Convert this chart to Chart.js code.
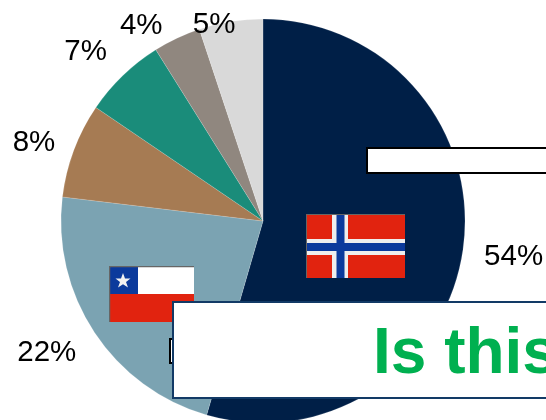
<!DOCTYPE html>
<html>
<head>
<meta charset="utf-8">
<script src="https://cdn.jsdelivr.net/npm/chart.js@4"></script>
<style>
  html, body { margin: 0; padding: 0; width: 546px; height: 420px; overflow: hidden; background: #fff; }
  #wrap { position: relative; width: 546px; height: 420px; overflow: hidden; }
  canvas { position: absolute; left: 0; top: 1px; }
  .flag { position: absolute; display: block; }
  .box { position: absolute; box-sizing: border-box; background: #fff; }
  #caja-arriba { left: 366px; top: 147px; width: 190px; height: 27px; border: 2px solid #000; }
  #caja-chica { left: 169px; top: 338px; width: 30px; height: 26px; border: 2px solid #000; }
  #caja-titulo { left: 172px; top: 300.5px; width: 400px; height: 98px; border: 2px solid #123a66; }
  #titulo { position: absolute; left: 199px; top: 12px; font: bold 64px "Liberation Sans", Arial, sans-serif; line-height: 72px; color: #00b050; white-space: nowrap; }
</style>
</head>
<body>
<div id="wrap">
  <canvas id="grafico" width="546" height="440"></canvas>

  <svg class="flag" style="left:306px;top:214px" width="99" height="64" viewBox="0 0 99 64">
    <rect width="99" height="64" fill="#e1230f"/>
    <rect x="26" width="16" height="64" fill="#eee"/>
    <rect y="25" width="99" height="16" fill="#eee"/>
    <rect x="30.5" width="8" height="64" fill="#0b3a9c"/>
    <rect y="29" width="99" height="8" fill="#0b3a9c"/>
    <path d="M0.5 64V0.5H99" fill="none" stroke="#666" stroke-width="1"/>
  </svg>

  <svg class="flag" style="left:109px;top:266px" width="85" height="56" viewBox="0 0 85 56">
    <rect width="85" height="28" fill="#fff"/>
    <rect y="28" width="85" height="28" fill="#e1230f"/>
    <rect width="29" height="28" fill="#0b3a9c"/>
    <polygon fill="#f2f2f2" points="14,7 16,12.5 21.5,12.5 17,16 19,21.5 14,18.2 9,21.5 11,16 6.5,12.5 12,12.5"/>
    <path d="M0.5 56V0.5H85" fill="none" stroke="#666" stroke-width="1.5"/>
  </svg>

  <div class="box" id="caja-arriba"></div>
  <div class="box" id="caja-chica"></div>
  <div class="box" id="caja-titulo"><div id="titulo">Is this</div></div>
</div>

<script>
const categorias = ["Noruega", "Chile", "Otros 1", "Otros 2", "Otros 3", "Otros 4"];
const valores = [54.5, 22.4, 7.6, 6.6, 3.8, 5.1];
const etiquetas = ["54%", "22%", "8%", "7%", "4%", "5%"];
const colores = ["#001f47", "#7ba3b2", "#a67b53", "#1a8c7a", "#90877f", "#d9d9d9"];

// distancia de cada etiqueta al centro y su desvio en grados respecto al centro del sector
const etiquetaRadio = [253, 252.5, 242.6, 246, 231, 204];
const etiquetaGiro = [-0.2, 2.4, -1.25, -2.2, -6.6, -4.7];

// Dibuja los porcentajes alrededor del pie
const pluginEtiquetas = {
  id: "etiquetas",
  afterDatasetsDraw(chart) {
    const ctx = chart.ctx;
    ctx.save();
    ctx.font = '29.5px "Liberation Sans", Arial, sans-serif';
    ctx.fillStyle = "#000";
    ctx.textAlign = "center";
    ctx.textBaseline = "middle";
    chart.getDatasetMeta(0).data.forEach((arco, i) => {
      const medio = (arco.startAngle + arco.endAngle) / 2 + etiquetaGiro[i] * Math.PI / 180;
      const x = arco.x + Math.cos(medio) * etiquetaRadio[i];
      const y = arco.y + Math.sin(medio) * etiquetaRadio[i];
      ctx.fillText(etiquetas[i], x, y + 1.5);
    });
    ctx.restore();
  },
};

new Chart(document.getElementById("grafico").getContext("2d"), {
  type: "pie",
  data: {
    labels: categorias,
    datasets: [
      {
        data: valores,
        backgroundColor: colores,
        borderColor: "rgba(255,255,255,0.3)",
        borderWidth: 0.5,
        radius: 202,
      },
    ],
  },
  options: {
    responsive: false,
    animation: false,
    layout: { padding: { right: 20 } },
    plugins: {
      legend: { display: false },
      tooltip: { enabled: false },
    },
  },
  plugins: [pluginEtiquetas],
});
</script>
</body>
</html>
